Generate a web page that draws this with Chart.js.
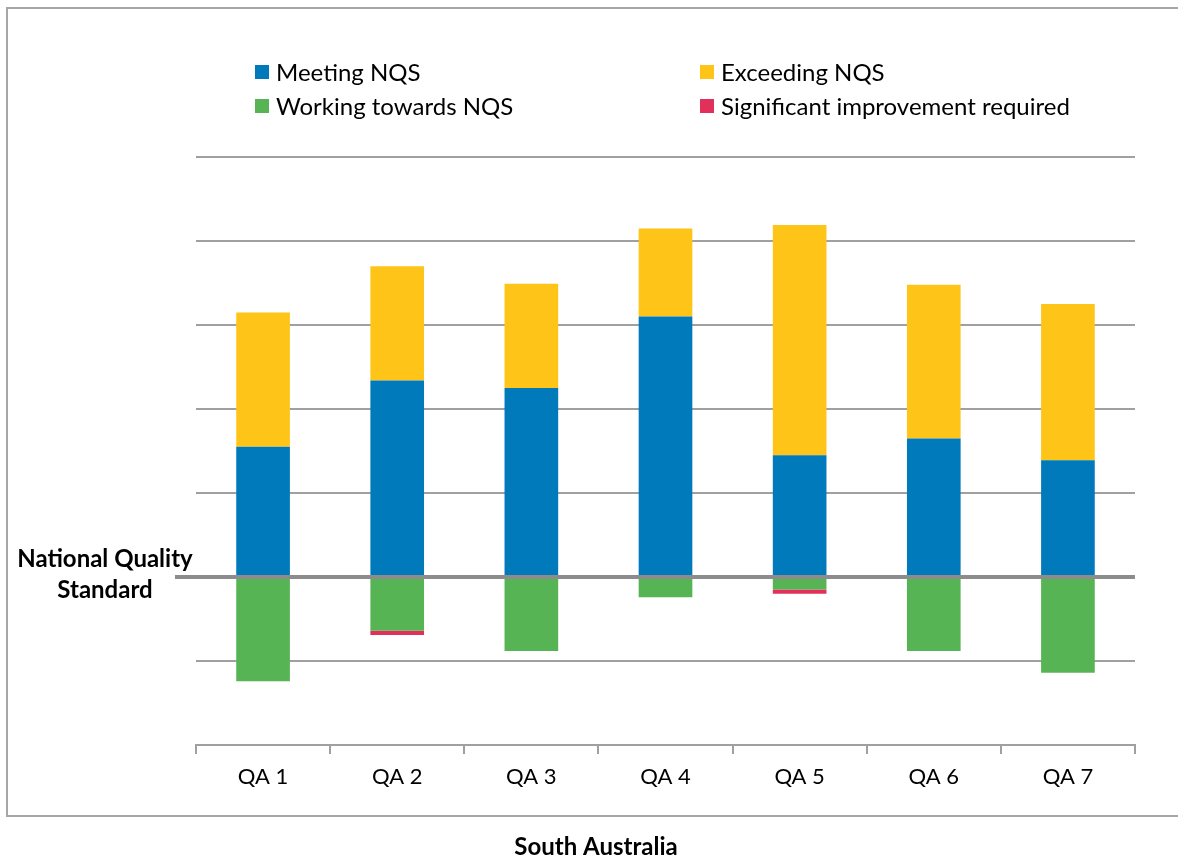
<!DOCTYPE html>
<html>
<head>
<meta charset="utf-8">
<script src="https://cdn.jsdelivr.net/npm/chart.js@4/dist/chart.umd.min.js"></script>
<style>
  html, body { margin: 0; padding: 0; background: #ffffff; }
  #wrap { position: relative; width: 1178px; height: 859px; }
</style>
</head>
<body>
<div id="wrap"><canvas id="c" width="1178" height="859"></canvas></div>
<script>
const categories = ['QA 1', 'QA 2', 'QA 3', 'QA 4', 'QA 5', 'QA 6', 'QA 7'];
const meetingNQS = [15.5, 23.4, 22.5, 31.0, 14.5, 16.5, 13.9];
const exceedingNQS = [16.0, 13.6, 12.4, 10.5, 27.4, 18.3, 18.6];
const workingTowardsNQS = [-12.4, -6.4, -8.8, -2.4, -1.5, -8.8, -11.4];
const significantImprovement = [0, -0.5, 0, 0, -0.5, 0, 0];
const seriesNames = ['Meeting NQS', 'Exceeding NQS', 'Working towards NQS', 'Significant improvement required'];
const baselineLabel = ['National Quality', 'Standard'];
const xAxisTitle = 'South Australia';

const COLORS = {
  meeting: '#007ABA',
  exceeding: '#FFC418',
  working: '#57B454',
  sir: '#E1305A'
};
const FONT = 'Lato, "Open Sans", "Liberation Sans", sans-serif';

const decorPlugin = {
  id: 'decor',
  beforeDraw(chart) {
    const ctx = chart.ctx;
    ctx.save();
    ctx.strokeStyle = '#a6a6a6';
    ctx.lineWidth = 2;
    ctx.strokeRect(7, 8, 1200, 808);
    ctx.restore();
  },
  afterDatasetsDraw(chart) {
    const ctx = chart.ctx;
    const y0 = chart.scales.y.getPixelForValue(0);
    const area = chart.chartArea;
    ctx.save();
    ctx.strokeStyle = '#8c8c8c';
    ctx.lineWidth = 4;
    ctx.beginPath();
    ctx.moveTo(175, y0);
    ctx.lineTo(area.right, y0);
    ctx.stroke();
    ctx.fillStyle = '#000';
    ctx.font = 'bold 24px ' + FONT;
    ctx.textAlign = 'center';
    ctx.textBaseline = 'middle';
    ctx.fillText(baselineLabel[0], 105, y0 - 18);
    ctx.fillText(baselineLabel[1], 105, y0 + 13);
    ctx.fillText(xAxisTitle, 596, 847);
    // legend
    const items = chart.data.datasets;
    const order = [0, 1, 2, 3];
    const pos = [[255, 72], [700, 72], [255, 106], [700, 106]];
    ctx.font = '24px ' + FONT;
    ctx.textAlign = 'left';
    order.forEach((di, i) => {
      const ds = items[di];
      const [x, y] = pos[i];
      ctx.fillStyle = ds.backgroundColor;
      ctx.fillRect(x, y - 7, 14, 14);
      ctx.fillStyle = '#000';
      ctx.fillText(ds.label, x + 21, y + 1);
    });
    ctx.restore();
  }
};

new Chart(document.getElementById('c'), {
  type: 'bar',
  data: {
    labels: categories,
    datasets: [
      { label: seriesNames[0], data: meetingNQS, backgroundColor: COLORS.meeting },
      { label: seriesNames[1], data: exceedingNQS, backgroundColor: COLORS.exceeding },
      { label: seriesNames[2], data: workingTowardsNQS, backgroundColor: COLORS.working },
      { label: seriesNames[3], data: significantImprovement, backgroundColor: COLORS.sir }
    ]
  },
  options: {
    responsive: false,
    animation: false,
    events: [],
    layout: { padding: { left: 196, right: 43, top: 157, bottom: 0 } },
    datasets: { bar: { barPercentage: 0.4, categoryPercentage: 1.0, borderWidth: 0 } },
    plugins: { legend: { display: false }, tooltip: { enabled: false }, title: { display: false } },
    scales: {
      x: {
        stacked: true,
        offset: true,
        afterFit(scale) { scale.height = 114; },
        grid: { offset: true, drawOnChartArea: false, drawTicks: true, tickLength: 9, color: '#a0a0a0', lineWidth: 2 },
        border: { display: true, color: '#a0a0a0', width: 2 },
        ticks: { color: '#000', font: { family: FONT, size: 22 }, padding: 10, maxRotation: 0 }
      },
      y: {
        stacked: true,
        min: -20,
        max: 50,
        afterFit(scale) { scale.width = 0; },
        ticks: { display: false, stepSize: 10 },
        border: { display: false },
        grid: { color: '#a0a0a0', lineWidth: 2, drawTicks: false }
      }
    }
  },
  plugins: [decorPlugin]
});
</script>
</body>
</html>
